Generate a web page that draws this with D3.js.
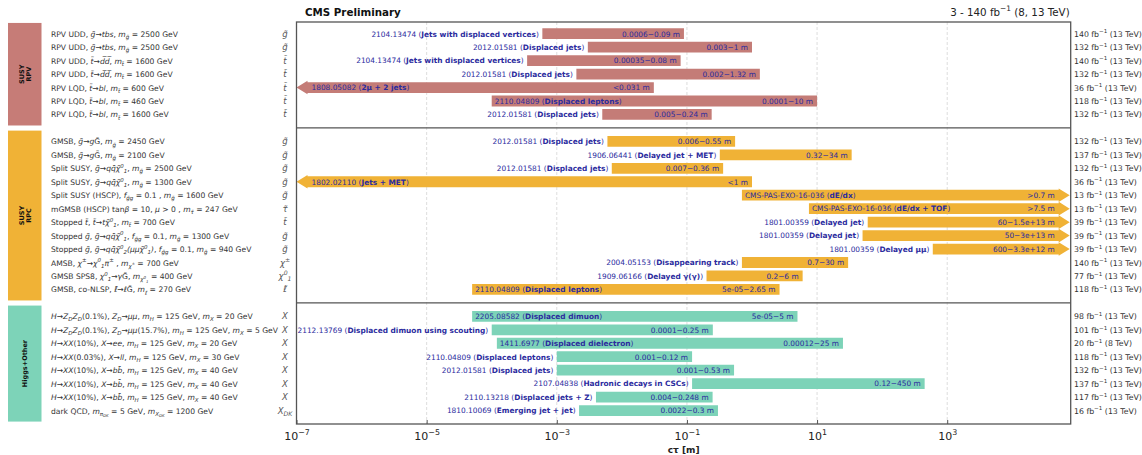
<!DOCTYPE html>
<html><head><meta charset="utf-8">
<script src="https://cdn.jsdelivr.net/npm/d3@7"></script>
<style>body{margin:0;background:#fff;} svg{display:block;font-family:"DejaVu Sans",sans-serif;}</style>
</head><body><svg id="c" width="1142" height="455"></svg>
<script>
// ---------------- data ----------------
const groups = ["SUSY|RPV", "SUSY|RPC", "Higgs+Other"];
const groupRows = [[0, 6], [8, 19], [21, 28]];
// row index -> label (markup: [..] italic, _{..} subscript, ^{..} superscript)
const categories = [
  "RPV UDD, [g̃]→[tbs], [m_{g̃}] = 2500 GeV",
  "RPV UDD, [g̃]→[tbs], [m_{g̃}] = 2500 GeV",
  "RPV UDD, [t̃]→[d̅d̅], [m_{t̃}] = 1600 GeV",
  "RPV UDD, [t̃]→[d̅d̅], [m_{t̃}] = 1600 GeV",
  "RPV LQD, [t̃]→[bl], [m_{t̃}] = 600 GeV",
  "RPV LQD, [t̃]→[bl], [m_{t̃}] = 460 GeV",
  "RPV LQD, [t̃]→[bl], [m_{t̃}] = 1600 GeV",
  null,
  "GMSB, [g̃]→[g]G̃, [m_{g̃}] = 2450 GeV",
  "GMSB, [g̃]→[g]G̃, [m_{g̃}] = 2100 GeV",
  "Split SUSY, [g̃]→[qq̄χ̃^{0}_{1}], [m_{g̃}] = 2500 GeV",
  "Split SUSY, [g̃]→[qq̄χ̃^{0}_{1}], [m_{g̃}] = 1300 GeV",
  "Split SUSY (HSCP), [f_{g̃g}] = 0.1 , [m_{g̃}] = 1600 GeV",
  "mGMSB (HSCP) tan[β] = 10, [μ] > 0 , [m_{τ̃}] = 247 GeV",
  "Stopped [t̃], [t̃]→[tχ̃^{0}_{1}], [m_{t̃}] = 700 GeV",
  "Stopped [g̃], [g̃]→[qq̄χ̃^{0}_{1}], [f_{g̃g}] = 0.1, [m_{g̃}] = 1300 GeV",
  "Stopped [g̃], [g̃]→[qq̄χ̃^{0}_{2}(μμχ̃^{0}_{1})], [f_{g̃g}] = 0.1, [m_{g̃}] = 940 GeV",
  "AMSB, [χ^{±}]→[χ^{0}_{1}π^{±}] , [m_{χ^{±}}] = 700 GeV",
  "GMSB SPS8, [χ^{0}_{1}]→[γ]G̃, [m_{χ^{0}_{1}}] = 400 GeV",
  "GMSB, co-NLSP, [ℓ̃]→[ℓ]G̃, [m_{ℓ̃}] = 270 GeV",
  null,
  "[H]→[Z_{D}Z_{D}](0.1%), [Z_{D}]→[μμ], [m_{H}] = 125 GeV, [m_{X}] = 20 GeV",
  "[H]→[Z_{D}Z_{D}](0.1%), [Z_{D}]→[μμ](15.7%), [m_{H}] = 125 GeV, [m_{X}] = 5 GeV",
  "[H]→[XX](10%), [X]→[ee], [m_{H}] = 125 GeV, [m_{X}] = 20 GeV",
  "[H]→[XX](0.03%), [X]→[ll], [m_{H}] = 125 GeV, [m_{X}] = 30 GeV",
  "[H]→[XX](10%), [X]→[bb̄], [m_{H}] = 125 GeV, [m_{X}] = 40 GeV",
  "[H]→[XX](10%), [X]→[bb̄], [m_{H}] = 125 GeV, [m_{X}] = 40 GeV",
  "[H]→[XX](10%), [X]→[bb̄], [m_{H}] = 125 GeV, [m_{X}] = 40 GeV",
  "dark QCD, [m_{π_{DK}}] = 5 GeV, [m_{X_{DK}}] = 1200 GeV"
];
const particles = ["g̃","g̃","t̃","t̃","t̃","t̃","t̃",null,
  "g̃","g̃","g̃","g̃","g̃","τ̃","t̃","g̃","g̃","χ^{±}","χ^{0}_{1}","ℓ̃",null,
  "X","X","X","X","X","X","X","X_{DK}"];
// lower / upper limits on c*tau in metres (null = open-ended)
const ctauLow  = [0.0006,0.003,0.00035,0.002,null,0.0001,0.005,null,
  0.006,0.32,0.007,null,0.7,7.5,60,50,600,0.7,0.2,5e-05,null,
  5e-05,0.0001,0.00012,0.001,0.001,0.12,0.004,0.0022];
const ctauHigh = [0.09,1,0.08,1.32,0.031,10,0.24,null,
  0.55,34,0.36,1,null,null,1.5e13,3e13,3.3e12,30,6,2.65,null,
  5,0.25,25,0.12,0.53,450,0.248,0.3];
const rangeLabels = ["0.0006−0.09 m","0.003−1 m","0.00035−0.08 m","0.002−1.32 m","<0.031 m","0.0001−10 m","0.005−0.24 m",null,
  "0.006−0.55 m","0.32−34 m","0.007−0.36 m","<1 m",">0.7 m",">7.5 m","60−1.5e+13 m","50−3e+13 m","600−3.3e+12 m","0.7−30 m","0.2−6 m","5e-05−2.65 m",null,
  "5e-05−5 m","0.0001−0.25 m","0.00012−25 m","0.001−0.12 m","0.001−0.53 m","0.12−450 m","0.004−0.248 m","0.0022−0.3 m"];
const refs = ["2104.13474","2012.01581","2104.13474","2012.01581","1808.05082","2110.04809","2012.01581",null,
  "2012.01581","1906.06441","2012.01581","1802.02110","CMS-PAS-EXO-16-036","CMS-PAS-EXO-16-036","1801.00359 ","1801.00359 ","1801.00359 ","2004.05153","1909.06166","2110.04809",null,
  "2205.08582","2112.13769","1411.6977","2110.04809","2012.01581","2107.04838","2110.13218","1810.10069"];
const analyses = ["Jets with displaced vertices","Displaced jets","Jets with displaced vertices","Displaced jets","2μ + 2 jets","Displaced leptons","Displaced jets",null,
  "Displaced jets","Delayed jet + MET","Displaced jets","Jets + MET","dE/dx","dE/dx + TOF","Delayed jet","Delayed jet","Delayed μμ","Disappearing track","Delayed γ(γ)","Displaced leptons",null,
  "Displaced dimuon","Displaced dimuon using scouting","Displaced dielectron","Displaced leptons","Displaced jets","Hadronic decays in CSCs","Displaced jets + Z","Emerging jet + jet"];
const lumis = ["140","132","140","132","36","118","132",null,
  "132","137","132","36","13","13","39","39","39","140","77","118",null,
  "98","101","20","118","132","137","117","16"];
const energies = ["13","13","13","13","13","13","13",null,
  "13","13","13","13","13","13","13","13","13","13","13","13",null,
  "13","13","8","13","13","13","13","13"];
const xTicks = [1e-7,1e-5,1e-3,1e-1,1e1,1e3];
const xDomain = [1e-7, 7.9e4];

// ---------------- style ----------------
const barColors = ["#c47c77","#f0b236","#7dd3b8"];
const boxColors = ["#c67c77","#f0b236","#7dd3b8"];
const blue = "#2b2b9e";
const L = 296.5, R = 1070.7, T = 22, B = 424;
const fsBar = 7.4, fsLeft = 7.6;

const svg = d3.select("#c");
const x = d3.scaleLog().domain(xDomain).range([L, R]);
const y = d3.scaleLinear().domain([-0.87, 29]).range([T, B]);
const unit = y(1) - y(0);
const barH = unit * 0.8;
const head = 11;

function groupOf(i){ return i < 7 ? 0 : (i < 20 ? 1 : 2); }

// rich text with markup
function rich(sel, str, size){
  const parts = str.split(/(\[|\]|_\{|\^\{|\})/);
  let italic = false; const stack = []; let cur = 0;
  parts.forEach(p => {
    if (p === "[") { italic = true; return; }
    if (p === "]") { italic = false; return; }
    if (p === "_{") { stack.push("sub"); return; }
    if (p === "^{") { stack.push("sup"); return; }
    if (p === "}") { stack.pop(); return; }
    if (!p) return;
    let off = 0, s = size;
    stack.forEach(k => { off += (k === "sub" ? 0.28 : -0.42) * s; s *= 0.72; });
    const ts = sel.append("tspan").text(p)
      .attr("font-size", s.toFixed(2))
      .attr("font-style", italic ? "italic" : "normal");
    if (off - cur !== 0) ts.attr("dy", (off - cur).toFixed(2));
    cur = off;
  });
  return sel;
}

// grid
svg.append("g").selectAll("line").data(xTicks.slice(1)).join("line")
  .attr("x1", d => x(d)).attr("x2", d => x(d)).attr("y1", T).attr("y2", B)
  .attr("stroke", "#d4d4d4").attr("stroke-width", 0.8).attr("stroke-dasharray", "3,2");

// group boxes
groupRows.forEach((g, k) => {
  const y0 = y(g[0] - 0.8), y1 = y(g[1] + 0.82);
  svg.append("rect").attr("x", 8).attr("y", y0).attr("width", 33.5).attr("height", y1 - y0)
    .attr("fill", boxColors[k]);
  const lines = groups[k].split("|");
  const cx = 25, cy = (y0 + y1) / 2;
  const t = svg.append("text").attr("transform", `translate(${cx},${cy}) rotate(-90)`)
    .attr("text-anchor", "middle").attr("font-weight", "bold").attr("font-size", 6.5).attr("fill", "#111");
  lines.forEach((ln, j) => {
    t.append("tspan").attr("x", 0).attr("y", (j - (lines.length - 1) / 2) * 7.5 + 2.3).text(ln);
  });
});

const rows = d3.range(categories.length).filter(i => categories[i] !== null);

// left labels, particle column, luminosity column
rows.forEach(i => {
  rich(svg.append("text").attr("x", 51).attr("y", y(i) + 3).attr("fill", "#333").attr("font-size", fsLeft),
    categories[i], fsLeft);
  rich(svg.append("text").attr("x", 285).attr("y", y(i) + 3).attr("text-anchor", "middle").attr("fill", "#555").attr("font-size", 8.5),
    "[" + particles[i] + "]", 8.5);
  rich(svg.append("text").attr("x", 1074).attr("y", y(i) + 3).attr("fill", "#333").attr("font-size", 7.8),
    lumis[i] + " fb^{−1} (" + energies[i] + " TeV)", 7.8);
});

// bars
const gb = svg.append("g");
rows.forEach(i => {
  const lo = ctauLow[i], hi = ctauHigh[i];
  const leftArrow = lo === null;
  const rightArrow = hi === null || hi > xDomain[1];
  const x0 = leftArrow ? L : x(lo);
  const x1 = rightArrow ? R - 1 : x(hi);
  const yc = y(i), h2 = barH / 2, hh = 6.8;
  const col = barColors[groupOf(i)];
  let pts;
  if (leftArrow) {
    pts = [[x0, yc], [x0 + head, yc - hh], [x0 + head, yc - h2], [x1, yc - h2], [x1, yc + h2], [x0 + head, yc + h2], [x0 + head, yc + hh]];
  } else if (rightArrow) {
    pts = [[x0, yc - h2], [x1 - head, yc - h2], [x1 - head, yc - hh], [x1, yc], [x1 - head, yc + hh], [x1 - head, yc + h2], [x0, yc + h2]];
  } else {
    pts = [[x0, yc - h2], [x1, yc - h2], [x1, yc + h2], [x0, yc + h2]];
  }
  gb.append("path").attr("d", d3.line()(pts) + "Z").attr("fill", col);

  // range label
  const vEnd = rightArrow ? x1 - head - 4 : x1 - 4;
  gb.append("text").attr("x", vEnd).attr("y", yc + 2.8).attr("text-anchor", "end")
    .attr("font-size", fsBar).attr("fill", blue).text(rangeLabels[i]);

  // reference label: inside wide bars, otherwise left of the bar
  const inside = leftArrow || (x1 - x0) > 250;
  const t = gb.append("text").attr("y", yc + 2.8).attr("font-size", fsBar).attr("fill", blue);
  if (leftArrow) t.attr("x", x0 + head + 4);
  else if (inside) t.attr("x", x0 + 3);
  else t.attr("x", x0 - 3.5).attr("text-anchor", "end");
  t.append("tspan").text(refs[i] + " (");
  t.append("tspan").attr("font-weight", "bold").text(analyses[i]);
  t.append("tspan").text(")");
});

// separators
[7, 20].forEach(r => svg.append("line").attr("x1", L).attr("x2", R).attr("y1", y(r)).attr("y2", y(r))
  .attr("stroke", "#555").attr("stroke-width", 1.3));

// frame
svg.append("rect").attr("x", L).attr("y", T).attr("width", R - L).attr("height", B - T)
  .attr("fill", "none").attr("stroke", "#555").attr("stroke-width", 1.3);

// x axis
const ax = svg.append("g").attr("transform", `translate(0,${B})`)
  .call(d3.axisBottom(x).tickValues(xTicks).tickSize(-4).tickPadding(8).tickFormat(() => ""));
ax.select(".domain").remove();
ax.selectAll(".tick line").attr("stroke", "#555");
ax.selectAll(".tick text").each(function(d){
  const t = d3.select(this).attr("font-size", 11).attr("fill", "#222").attr("font-family", "DejaVu Sans");
  t.text(null);
  rich(t, "10^{" + String(Math.round(Math.log10(d))).replace("-", "−") + "}", 11);
});

svg.append("text").attr("x", (L + R) / 2).attr("y", 452.5).attr("text-anchor", "middle")
  .attr("font-weight", "bold").attr("font-size", 9).attr("fill", "#222").text("cτ [m]");

// titles
svg.append("text").attr("x", 305).attr("y", 16).attr("font-weight", "bold").attr("font-size", 10.3)
  .attr("fill", "#111").text("CMS Preliminary");
rich(svg.append("text").attr("x", R - 1).attr("y", 15.5).attr("text-anchor", "end").attr("font-size", 10.3)
  .attr("fill", "#222"), "3 - 140 fb^{−1} (8, 13 TeV)", 10.3);
</script></body></html>
